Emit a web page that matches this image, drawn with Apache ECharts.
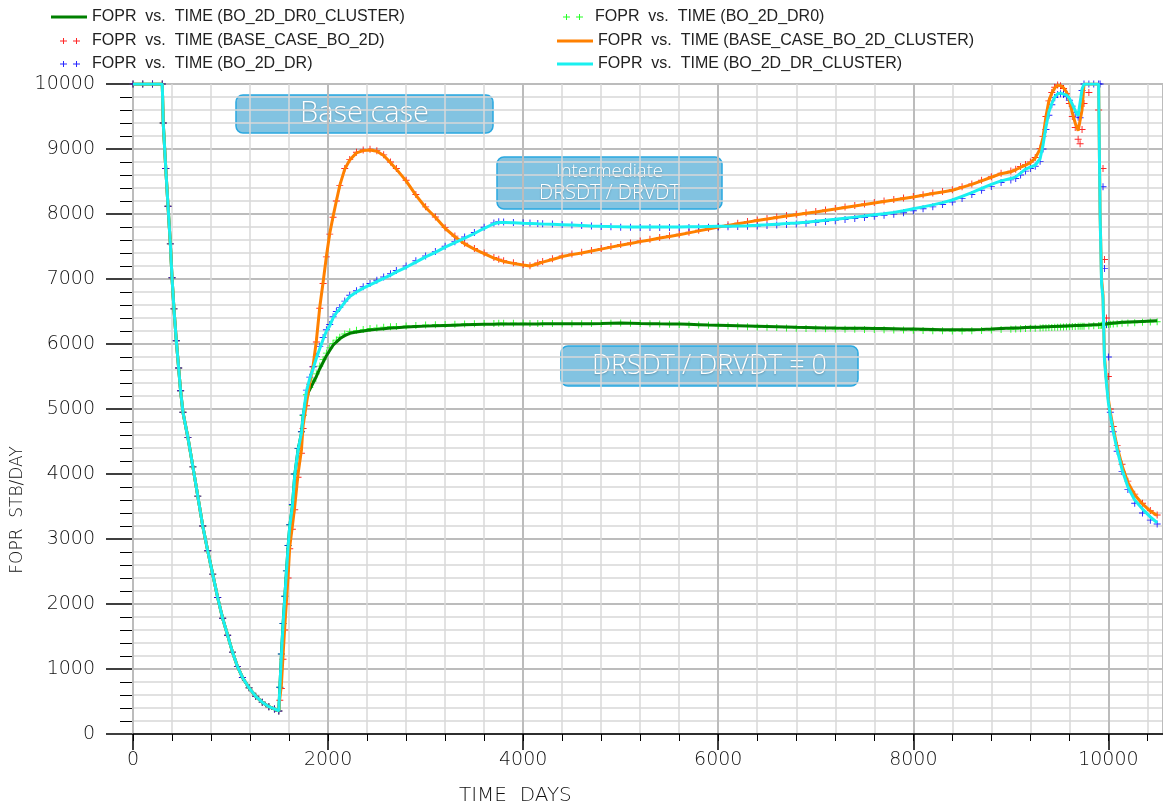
<!DOCTYPE html>
<html>
<head>
<meta charset="utf-8">
<title>FOPR vs. TIME</title>
<script src="https://cdn.jsdelivr.net/npm/echarts@6/dist/echarts.min.js"></script>
<style>
  html, body { margin: 0; padding: 0; background: #ffffff; }
  #chart { width: 1163px; height: 810px; }
</style>
</head>
<body>
<div id="chart"></div>
<script>
// Report times (days) shared by every case
const TIME_DAYS = [
  0, 100, 200, 300, 310, 336, 359, 383, 400, 420, 444, 468, 488, 512, 563, 614, 664, 715, 766, 817, 868, 919, 970, 1020, 1071, 1122, 1190, 1258, 1325, 1393, 1450, 1495,
  1505, 1521, 1538, 1556, 1573, 1590, 1607, 1634, 1658, 1692, 1727, 1744, 1778, 1812, 1846, 1880, 1915, 1949, 1983, 2017, 2051, 2085, 2120, 2171, 2222,
  2291, 2360, 2430, 2500, 2570, 2640, 2700, 2800, 2900, 3000, 3100, 3200, 3300, 3400, 3500, 3600, 3700, 3750, 3800, 3900,
  4000, 4070, 4150, 4200, 4300, 4400, 4500, 4600, 4700, 4800, 4900, 5000, 5100, 5200, 5300, 5400, 5500, 5600, 5700, 5800,
  5900, 6000, 6100, 6200, 6300, 6400, 6500, 6600, 6700, 6800, 6900, 7000, 7100, 7200, 7300, 7400, 7500, 7600, 7700, 7800,
  7900, 8000, 8100, 8200, 8300, 8400, 8500, 8600, 8700, 8800, 8900, 9000,
  9050, 9100, 9150, 9200, 9250, 9300, 9330, 9360, 9390, 9420, 9450, 9480, 9510, 9540, 9570, 9600, 9630, 9660, 9690, 9710,
  9730, 9750, 9800, 9850, 9900, 9915, 9930, 9945, 9960, 9980, 10000, 10020, 10050, 10090, 10140, 10200, 10270, 10350, 10430, 10500
];

// FOPR (STB/DAY) per case, one value per report time; null = no report marker
const FOPR_BO_2D_DR0_CLUSTER = [
  10000, 10000, 10000, 10000, 9400, 8700, 8120, 7540, 7020, 6540, 6050, 5630, 5280, 4950, 4560, 4110, 3660, 3200, 2820, 2460, 2100, 1780, 1520, 1260, 1040, 870, 710, 580, 490, 420, 385, 355,
  700, 1200, 1680, 2100, 2490, 2880, 3200, 3500, 3980, 4370, 4630, 4890, 5200, 5300, 5400, 5500, 5620, 5720, 5820, 5900, 5980, 6030, 6080, 6130, 6165,
  6185, 6200, 6215, 6225, 6235, 6245, 6250, 6260, 6268, 6275, 6280, 6285, 6290, 6295, 6300, 6303, 6305, 6306, 6307, 6308,
  6308, 6308, 6309, 6310, 6310, 6310, 6311, 6312, 6313, 6314, 6318, 6322, 6320, 6316, 6313, 6310, 6308, 6306, 6302, 6297,
  6292, 6288, 6284, 6280, 6276, 6272, 6268, 6264, 6260, 6256, 6253, 6250, 6247, 6245, 6244, 6243, 6242, 6240, 6238, 6235,
  6232, 6229, 6226, 6223, 6220, 6218, 6218, 6220, 6225, 6232, 6240, 6245,
  6248, 6250, 6253, 6256, 6259, 6262, 6264, 6265, 6266, 6268, 6270, 6272, 6274, 6276, 6278, 6280, 6282, 6284, 6286, 6287,
  6288, 6289, 6292, 6295, 6298, 6300, 6302, 6304, 6306, 6310, 6315, 6318, 6322, 6327, 6333, 6338, 6343, 6348, 6353, 6357
];

const FOPR_BO_2D_DR0 = [
  10000, 10000, 10000, 10000, 9400, 8700, 8120, 7540, 7020, 6540, 6050, 5630, 5280, 4950, 4560, 4110, 3660, 3200, 2820, 2460, 2100, 1780, 1520, 1260, 1040, 870, 710, 580, 490, 420, 385, 355,
  720, 1230, 1700, 2120, 2510, 2900, 3220, 3520, 4000, 4390, 4650, 4900, 5220, 5330, 5430, 5540, 5660, 5760, 5860, 5940, 6010, 6060, 6105, 6155, 6190,
  6210, 6225, 6238, 6248, 6257, 6265, 6270, 6278, 6285, 6291, 6296, 6300, 6304, 6308, 6312, 6315, 6317, 6318, 6319, 6320,
  6318, 6316, 6315, 6315, 6314, 6313, 6313, 6313, 6314, 6315, 6318, 6322, 6320, 6315, 6311, 6307, 6304, 6301, 6297, 6292,
  6287, 6282, 6277, 6272, 6267, 6262, 6257, 6252, 6248, 6244, 6240, 6236, 6233, 6230, 6228, 6226, 6224, 6222, 6220, 6217,
  6214, 6211, 6208, 6205, 6202, 6200, 6200, 6202, 6207, 6214, 6222, 6228,
  6232, 6235, 6238, 6241, 6244, 6247, 6249, 6250, 6252, 6254, 6256, 6258, 6260, 6262, 6264, 6266, 6268, 6270, 6272, 6273,
  6274, 6275, 6278, 6281, 6284, 6286, 6288, 6290, 6292, 6296, 6300, 6303, 6307, 6312, 6318, 6323, 6328, 6333, 6338, 6343
];

const FOPR_BASE_CASE_BO_2D = [
  10000, 10000, 10000, 10000, 9400, 8700, 8120, 7540, 7020, 6540, 6050, 5630, 5280, 4950, 4560, 4110, 3660, 3200, 2820, 2460, 2100, 1780, 1520, 1260, 1040, 870, 710, 580, 490, 420, 385, 355,
  520, 700, 1150, 1600, 2000, 2400, 2850, 3150, 3450, 3950, 4320, 4700, 5050, 5380, 5650, 6030, 6550, 6930, 7340, 7690, 7950, 8200, 8440, 8700, 8840,
  8950, 8985, 8995, 8975, 8910, 8800, 8700, 8520, 8300, 8110, 7955, 7790, 7660, 7550, 7470, 7400, 7330, 7305, 7280, 7250,
  7225, 7205, 7245, 7270, 7310, 7355, 7385, 7410, 7440, 7470, 7500, 7530, 7555, 7585, 7610, 7640, 7665, 7690, 7720, 7750,
  7780, 7808, 7833, 7858, 7883, 7908, 7930, 7953, 7976, 7998, 8018, 8038, 8063, 8085, 8108, 8131, 8154, 8178, 8201, 8224,
  8248, 8270, 8296, 8322, 8348, 8373, 8418, 8463, 8518, 8573, 8628, 8660,
  8690, 8730, 8760, 8800, 8870, 9010, 9190, 9500, 9740, 9870, 9950, 9985, 9975, 9930, 9850, 9700, 9500, 9330, 9150, 9080,
  9300, 9700, 9870, null, 9600, null, null, 8700, 7300, 6400, 5500, 5000, 4730, 4440, 4150, 3890, 3690, 3550, 3440, 3370
];

const FOPR_BASE_CASE_BO_2D_CLUSTER = [
  10000, 10000, 10000, 10000, 9400, 8700, 8120, 7540, 7020, 6540, 6050, 5630, 5280, 4950, 4560, 4110, 3660, 3200, 2820, 2460, 2100, 1780, 1520, 1260, 1040, 870, 710, 580, 490, 420, 385, 355,
  550, 745, 1200, 1650, 2040, 2430, 2880, 3200, 3500, 4000, 4370, 4750, 5080, 5400, 5660, 6050, 6570, 6950, 7350, 7700, 7960, 8200, 8440, 8690, 8830,
  8940, 8975, 8985, 8965, 8900, 8790, 8690, 8510, 8290, 8100, 7950, 7780, 7650, 7540, 7460, 7390, 7320, 7295, 7270, 7240,
  7215, 7200, 7235, 7260, 7300, 7345, 7375, 7400, 7430, 7460, 7490, 7520, 7545, 7575, 7600, 7630, 7655, 7680, 7710, 7740,
  7770, 7800, 7825, 7850, 7875, 7900, 7922, 7945, 7968, 7990, 8010, 8030, 8055, 8077, 8100, 8123, 8146, 8170, 8193, 8216,
  8240, 8262, 8288, 8314, 8340, 8365, 8410, 8455, 8510, 8565, 8620, 8650,
  8680, 8720, 8750, 8790, 8860, 9000, 9180, 9500, 9740, 9860, 9940, 9980, 9975, 9940, 9880, 9740, 9560, 9400, 9280, 9260,
  9600, 10000, 10000, 10000, 10000, 8000, 7000, 6750, 5800, 5450, 5150, 4950, 4700, 4420, 4130, 3870, 3680, 3540, 3430, 3360
];

const FOPR_BO_2D_DR = [
  10000, 10000, 10000, 10000, 9400, 8700, 8120, 7540, 7020, 6540, 6050, 5630, 5280, 4950, 4560, 4110, 3660, 3200, 2820, 2460, 2100, 1780, 1520, 1260, 1040, 870, 710, 580, 490, 420, 385, 355,
  720, 1230, 1700, 2120, 2510, 2900, 3220, 3530, 4000, 4390, 4650, 4910, 5290, 5490, 5650, 5810, 5960, 6100, 6220, 6300, 6420, 6500, 6560, 6660, 6750,
  6820, 6880, 6930, 6980, 7030, 7080, 7130, 7200, 7280, 7355, 7425, 7505, 7575, 7645, 7715, 7795, 7862, 7880, 7876, 7870,
  7864, 7860, 7855, 7851, 7845, 7838, 7830, 7822, 7814, 7807, 7802, 7798, 7795, 7793, 7792, 7792, 7792, 7793, 7794, 7796,
  7798, 7800, 7803, 7806, 7810, 7815, 7822, 7830, 7839, 7848, 7858, 7870, 7884, 7898, 7914, 7930, 7947, 7964, 7980, 7998,
  8020, 8050, 8080, 8110, 8145, 8185, 8240, 8300, 8365, 8425, 8485, 8525,
  8545, 8600, 8660, 8700, 8735, 8810, 9000, 9300, 9520, 9680, 9790, 9840, 9850, 9840, 9810, 9750, 9660, 9560, 9490, 9480,
  9900, 10000, 10000, 10000, 10000, 10000, null, 8420, 7160, 6300, 5800, 4950, 4650, 4350, 4040, 3760, 3550, 3400, 3290, 3230
];

const FOPR_BO_2D_DR_CLUSTER = [
  10000, 10000, 10000, 10000, 9400, 8700, 8120, 7540, 7020, 6540, 6050, 5630, 5280, 4950, 4560, 4110, 3660, 3200, 2820, 2460, 2100, 1780, 1520, 1260, 1040, 870, 710, 580, 490, 420, 385, 355,
  700, 1200, 1680, 2100, 2490, 2880, 3200, 3500, 3980, 4370, 4630, 4890, 5270, 5470, 5620, 5780, 5930, 6070, 6200, 6280, 6400, 6480, 6540, 6640, 6730,
  6800, 6860, 6910, 6960, 7010, 7060, 7110, 7180, 7260, 7340, 7410, 7490, 7560, 7630, 7700, 7780, 7850, 7870, 7868, 7864,
  7858, 7855, 7850, 7847, 7842, 7836, 7830, 7823, 7816, 7810, 7806, 7803, 7801, 7800, 7800, 7800, 7800, 7800, 7802, 7804,
  7807, 7810, 7813, 7817, 7821, 7826, 7834, 7843, 7852, 7862, 7873, 7888, 7903, 7918, 7935, 7952, 7970, 7988, 8005, 8025,
  8050, 8080, 8110, 8140, 8175, 8215, 8270, 8330, 8395, 8455, 8510, 8545,
  8570, 8630, 8690, 8720, 8750, 8850, 9060, 9340, 9570, 9700, 9800, 9850, 9860, 9845, 9830, 9780, 9690, 9590, 9510, 9500,
  9920, 10000, 10000, 10000, 10000, 7990, 6930, 6700, 5750, 5400, 5100, 4900, 4650, 4370, 4070, 3800, 3600, 3460, 3340, 3250
];

// Tick labels
const X_TICK_LABELS = [0, 2000, 4000, 6000, 8000, 10000];
const Y_TICK_LABELS = [0, 1000, 2000, 3000, 4000, 5000, 6000, 7000, 8000, 9000, 10000];

// Case names as shown in the legend
const NAME_DR0_CLUSTER = 'FOPR  vs.  TIME (BO_2D_DR0_CLUSTER)';
const NAME_DR0 = 'FOPR  vs.  TIME (BO_2D_DR0)';
const NAME_BASE = 'FOPR  vs.  TIME (BASE_CASE_BO_2D)';
const NAME_BASE_CLUSTER = 'FOPR  vs.  TIME (BASE_CASE_BO_2D_CLUSTER)';
const NAME_DR = 'FOPR  vs.  TIME (BO_2D_DR)';
const NAME_DR_CLUSTER = 'FOPR  vs.  TIME (BO_2D_DR_CLUSTER)';

function pairs(values) {
  return TIME_DAYS.map((t, i) => [t, values[i]]).filter(p => p[1] !== null);
}

const PLUS = 'path://M0,2.6H6V3.4H0Z M2.6,0H3.4V6H2.6Z';
const PLUS_PAIR = 'path://M0,2.5H7V3.5H0Z M3,0H4V6H3Z M13,2.5H20V3.5H13Z M16,0H17V6H16Z';

const LABEL_FONT = 'DejaVu Sans';
const NOTE_FONT = 'Open Sans';
const X_MAX = 10560;

function lineSeries(name, values, color) {
  return {
    name, type: 'line', data: pairs(values), showSymbol: false, symbol: 'none',
    lineStyle: { color, width: 3 }, itemStyle: { color }, z: 4, animation: false
  };
}
function markSeries(name, values, color) {
  return {
    name, type: 'scatter', data: pairs(values), symbol: PLUS, symbolSize: 7,
    itemStyle: { color, opacity: 0.85 }, z: 3, animation: false
  };
}

function legendItem(name, left, top, kind, color) {
  const isLine = kind === 'line';
  return {
    left, top, padding: 0, orient: 'horizontal', selectedMode: false,
    itemWidth: isLine ? 36 : 20, itemHeight: isLine ? 3 : 6,
    data: [{ name, icon: isLine ? 'rect' : PLUS_PAIR, itemStyle: { color } }],
    textStyle: {
      fontFamily: 'Liberation Sans', fontSize: 16, color: '#222',
      padding: isLine ? [0, 0, 0, 0] : [0, 0, 0, 7]
    }
  };
}

function noteBox(x, y, w, h, lines) {
  const children = [
    {
      type: 'rect',
      shape: { x, y, width: w, height: h, r: 7 },
      style: {
        fill: 'none', stroke: 'rgba(0,0,0,0.01)', lineWidth: 1.5,
        shadowBlur: 5, shadowOffsetX: 2, shadowOffsetY: 3, shadowColor: 'rgba(0,0,0,0.35)'
      }
    },
    {
      type: 'rect',
      shape: { x, y, width: w, height: h, r: 7 },
      style: { fill: 'rgba(40,152,204,0.58)', stroke: '#2aa8e0', lineWidth: 1.5 }
    }
  ];
  const total = lines.reduce((s, l) => s + l.size * 1.1, 0);
  let cy = y + h / 2 - total / 2;
  lines.forEach(l => {
    const lh = l.size * 1.1;
    children.push({
      type: 'text',
      style: {
        text: l.text, x: x + w / 2, y: cy + lh / 2, align: 'center', verticalAlign: 'middle',
        fill: '#ffffff', fontFamily: NOTE_FONT, fontWeight: 300, fontSize: l.size,
        textShadowColor: 'rgba(0,0,0,0.25)', textShadowBlur: 2, textShadowOffsetY: 1
      }
    });
    cy += lh;
  });
  return { type: 'group', silent: true, z: 10, children };
}

const chart = echarts.init(document.getElementById('chart'), null, { renderer: 'canvas' });

const option = {
  backgroundColor: '#ffffff',
  animation: false,
  grid: { left: 133, top: 84, bottom: 76, right: 0, containLabel: false, show: false },
  legend: [
    legendItem(NAME_DR0_CLUSTER, 51, 9, 'line', '#008000'),
    legendItem(NAME_BASE, 60, 33, 'plus', '#ff0000'),
    legendItem(NAME_DR, 60, 56, 'plus', '#0000ff'),
    legendItem(NAME_DR0, 563, 9, 'plus', '#00ff00'),
    legendItem(NAME_BASE_CLUSTER, 557, 33, 'line', '#ff8000'),
    legendItem(NAME_DR_CLUSTER, 557, 56, 'line', '#19f0f0')
  ],
  xAxis: [
    {
      // days axis: labels, long ticks and heavy grid every 2000
      type: 'value', min: 0, max: X_MAX, interval: 2000, z: 1,
      axisLine: { show: true, onZero: false, lineStyle: { color: '#000', width: 1.5 } },
      axisTick: { show: true, inside: false, length: 16, lineStyle: { color: '#000', width: 1.5 } },
      splitLine: { show: true, lineStyle: { color: '#bcbcbc', width: 2 } },
      axisLabel: {
        margin: 17, fontFamily: LABEL_FONT, fontWeight: 200, fontSize: 19, color: '#111',
        showMaxLabel: false,
        formatter: v => (X_TICK_LABELS.indexOf(v) >= 0 ? String(v) : '')
      }
    },
    {
      // light grid and short ticks every 400 days
      type: 'value', min: 0, max: X_MAX, interval: 400, z: 0, position: 'bottom',
      axisLine: { show: false },
      axisTick: { show: true, inside: false, length: 7, lineStyle: { color: '#000', width: 1 } },
      splitLine: { show: true, lineStyle: { color: '#d8d8d8', width: 1.5 } },
      axisLabel: { show: false }
    }
  ],
  yAxis: {
    type: 'value', min: 0, max: 10000, interval: 1000,
    axisLine: { show: true, onZero: false, lineStyle: { color: '#000', width: 1.5 } },
    axisTick: { show: true, inside: false, length: 27, lineStyle: { color: '#000', width: 1.5 } },
    minorTick: { show: true, splitNumber: 5, length: 13, lineStyle: { color: '#000', width: 1 } },
    splitLine: { show: true, lineStyle: { color: '#bcbcbc', width: 2 } },
    minorSplitLine: { show: true, lineStyle: { color: '#d8d8d8', width: 1.5 } },
    axisLabel: {
      margin: 10, padding: [0, 28, 0, 0], fontFamily: LABEL_FONT, fontWeight: 200, fontSize: 19, color: '#111',
      formatter: v => (Y_TICK_LABELS.indexOf(v) >= 0 ? String(v) : '')
    }
  },
  series: [
    markSeries(NAME_DR0, FOPR_BO_2D_DR0, '#00ff00'),
    markSeries(NAME_BASE, FOPR_BASE_CASE_BO_2D, '#ff0000'),
    markSeries(NAME_DR, FOPR_BO_2D_DR, '#0000ff'),
    lineSeries(NAME_DR0_CLUSTER, FOPR_BO_2D_DR0_CLUSTER, '#008000'),
    lineSeries(NAME_BASE_CLUSTER, FOPR_BASE_CASE_BO_2D_CLUSTER, '#ff8000'),
    lineSeries(NAME_DR_CLUSTER, FOPR_BO_2D_DR_CLUSTER, '#19f0f0')
  ],
  graphic: [
    // axis titles
    {
      type: 'text', left: 459, top: 786, silent: true,
      style: { text: 'TIME  DAYS', fontFamily: LABEL_FONT, fontWeight: 200, fontSize: 20, fill: '#111' }
    },
    {
      type: 'text', x: 18, y: 510, rotation: Math.PI / 2, silent: true,
      style: { text: 'FOPR  STB/DAY', fontFamily: LABEL_FONT, fontWeight: 200, fontSize: 17, fill: '#111', align: 'center', verticalAlign: 'middle' }
    },
    // annotation callouts
    noteBox(236, 95, 257, 38, [{ text: 'Base case', size: 29 }]),
    noteBox(497, 157, 225, 52, [{ text: 'Intermediate', size: 18.5 }, { text: 'DRSDT / DRVDT', size: 20 }]),
    noteBox(561, 346, 297, 40, [{ text: 'DRSDT / DRVDT = 0', size: 27 }])
  ]
};

chart.setOption(option);
</script>
</body>
</html>
